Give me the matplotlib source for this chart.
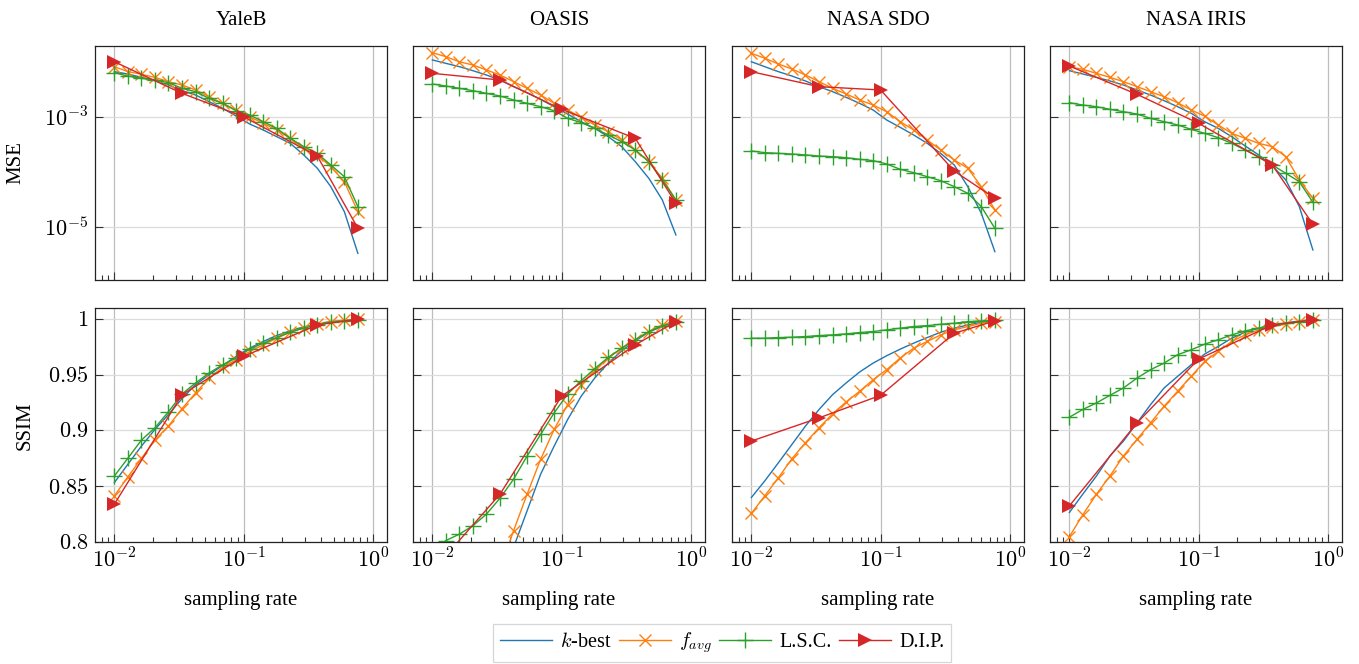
import matplotlib
matplotlib.use('Agg')
import matplotlib.pyplot as plt
from matplotlib.ticker import FixedLocator, LogLocator, NullLocator, NullFormatter, FixedFormatter
from matplotlib.lines import Line2D

plt.rcParams['font.family'] = ['Liberation Serif', 'DejaVu Serif']
plt.rcParams['mathtext.fontset'] = 'cm'

# ---------------- data ----------------
datasets = ['YaleB', 'OASIS', 'NASA SDO', 'NASA IRIS']
methods = ['$k$-best', '$f_{avg}$', 'L.S.C.', 'D.I.P.']
rates = [0.0100, 0.0127, 0.0162, 0.0206, 0.0262, 0.0334, 0.0425, 0.0541, 0.0688,
         0.0876, 0.1114, 0.1418, 0.1804, 0.2296, 0.2922, 0.3719, 0.4733, 0.6024, 0.7666]
dip_rates = [0.01, 0.0334, 0.1, 0.372, 0.767]

# MSE
yaleb_mse_kbest = [6.67e-3, 6.05e-3, 5.26e-3, 4.58e-3, 3.82e-3, 3.01e-3, 2.51e-3, 1.90e-3, 1.44e-3, 1.04e-3,
                   7.46e-4, 5.81e-4, 4.39e-4, 3.32e-4, 2.04e-4, 1.17e-4, 5.41e-5, 1.90e-5, 3.32e-6]
yaleb_mse_favg = [8.2e-3, 6.7e-3, 5.97e-3, 5.26e-3, 4.39e-3, 3.82e-3, 3.10e-3, 2.34e-3, 1.77e-3, 1.34e-3,
                  1.01e-3, 7.67e-4, 5.81e-4, 4.09e-4, 2.69e-4, 2.04e-4, 1.25e-4, 6.67e-5, 1.90e-5]
yaleb_mse_lsc = [6.40e-3, 5.56e-3, 5.05e-3, 4.71e-3, 4.21e-3, 3.32e-3, 2.89e-3, 2.18e-3, 1.77e-3, 1.30e-3,
                 1.09e-3, 8.22e-4, 6.22e-4, 4.09e-4, 2.89e-4, 2.18e-4, 1.34e-4, 8.22e-5, 2.34e-5]
yaleb_mse_dip = [1.01e-2, 2.69e-3, 1.01e-3, 1.95e-4, 9.46e-6]

oasis_mse_kbest = [1.09e-2, 9.46e-3, 8.22e-3, 6.95e-3, 5.80e-3, 4.71e-3, 3.56e-3, 2.77e-3, 2.09e-3, 1.54e-3,
                   1.13e-3, 8.22e-4, 6.22e-4, 4.39e-4, 2.89e-4, 1.54e-4, 7.67e-5, 3.10e-5, 7.16e-6]
oasis_mse_favg = [1.48e-2, 1.25e-2, 1.01e-2, 8.82e-3, 7.16e-3, 5.81e-3, 4.39e-3, 3.32e-3, 2.51e-3, 1.77e-3,
                  1.34e-3, 9.86e-4, 7.16e-4, 5.41e-4, 3.82e-4, 2.51e-4, 1.54e-4, 7.67e-5, 3.10e-5]
oasis_mse_lsc = [3.98e-3, 3.66e-3, 3.32e-3, 3.01e-3, 2.69e-3, 2.41e-3, 2.04e-3, 1.77e-3, 1.54e-3, 1.30e-3,
                 9.46e-4, 7.89e-4, 6.22e-4, 4.71e-4, 3.56e-4, 2.51e-4, 1.54e-4, 7.16e-5, 3.10e-5]
oasis_mse_dip = [6.22e-3, 4.71e-3, 1.38e-3, 4.09e-4, 2.69e-5]

sdo_mse_kbest = [1.01e-2, 8.22e-3, 6.67e-3, 5.56e-3, 4.52e-3, 3.56e-3, 2.89e-3, 2.28e-3, 1.77e-3, 1.34e-3,
                 8.82e-4, 6.49e-4, 4.71e-4, 3.32e-4, 2.18e-4, 1.34e-4, 5.41e-5, 1.77e-5, 3.56e-6]
sdo_mse_favg = [1.44e-2, 1.17e-2, 9.20e-3, 7.46e-3, 5.81e-3, 4.39e-3, 3.32e-3, 2.62e-3, 2.04e-3, 1.65e-3,
                1.25e-3, 8.22e-4, 5.81e-4, 3.82e-4, 2.51e-4, 1.65e-4, 1.17e-4, 5.41e-5, 2.04e-5]
sdo_mse_lsc = [2.41e-4, 2.25e-4, 2.18e-4, 2.12e-4, 2.04e-4, 1.95e-4, 1.90e-4, 1.82e-4, 1.70e-4, 1.61e-4,
               1.40e-4, 1.12e-4, 9.72e-5, 8.22e-5, 6.95e-5, 5.41e-5, 4.09e-5, 2.34e-5, 9.46e-6]
sdo_mse_dip = [6.67e-3, 3.56e-3, 3.10e-3, 1.04e-4, 3.32e-5]

iris_mse_kbest = [6.95e-3, 6.05e-3, 5.26e-3, 4.52e-3, 3.82e-3, 3.10e-3, 2.51e-3, 1.98e-3, 1.54e-3, 1.17e-3,
                  8.22e-4, 6.22e-4, 4.39e-4, 2.97e-4, 2.04e-4, 1.29e-4, 7.16e-5, 2.34e-5, 3.82e-6]
iris_mse_favg = [8.22e-3, 7.36e-3, 6.22e-3, 5.26e-3, 4.39e-3, 3.56e-3, 2.89e-3, 2.34e-3, 1.82e-3, 1.34e-3,
                 1.04e-3, 7.16e-4, 5.05e-4, 4.09e-4, 3.32e-4, 2.89e-4, 1.90e-4, 7.16e-5, 3.32e-5]
iris_mse_lsc = [1.82e-3, 1.65e-3, 1.54e-3, 1.38e-3, 1.25e-3, 1.13e-3, 9.46e-4, 8.22e-4, 7.16e-4, 5.97e-4,
                5.05e-4, 4.21e-4, 3.32e-4, 2.51e-4, 1.90e-4, 1.34e-4, 9.46e-5, 6.67e-5, 2.81e-5]
iris_mse_dip = [8.45e-3, 2.58e-3, 7.67e-4, 1.34e-4, 1.12e-5]

# SSIM
yaleb_ssim_kbest = [0.8533, 0.8696, 0.8860, 0.9009, 0.9143, 0.9286, 0.9411, 0.9500, 0.9583, 0.9664,
                    0.9738, 0.9798, 0.9851, 0.9893, 0.9929, 0.9952, 0.9976, 0.9988, 0.9997]
yaleb_ssim_favg = [0.8414, 0.8583, 0.8750, 0.8914, 0.9039, 0.9196, 0.9336, 0.9470, 0.9565, 0.9634,
                   0.9708, 0.9768, 0.9827, 0.9881, 0.9923, 0.9952, 0.9976, 0.9988, 0.9997]
yaleb_ssim_lsc = [0.8592, 0.8750, 0.8914, 0.9024, 0.9167, 0.9327, 0.9426, 0.9515, 0.9589, 0.9649,
                  0.9729, 0.9783, 0.9833, 0.9881, 0.9917, 0.9946, 0.9970, 0.9982, 0.9994]
yaleb_ssim_dip = [0.8339, 0.9321, 0.9664, 0.9946, 0.9997]

oasis_ssim_kbest = [0.55, 0.59, 0.63, 0.67, 0.71, 0.75, 0.7952, 0.8280, 0.8607, 0.8860,
                    0.9098, 0.9307, 0.9470, 0.9604, 0.9714, 0.9804, 0.9881, 0.9935, 0.9970]
oasis_ssim_favg = [0.60, 0.64, 0.68, 0.71, 0.745, 0.775, 0.8101, 0.8429, 0.8741, 0.9009,
                   0.9232, 0.9411, 0.9545, 0.9649, 0.9738, 0.9813, 0.9887, 0.9946, 0.9982]
oasis_ssim_lsc = [0.792, 0.8012, 0.8071, 0.8146, 0.8250, 0.8393, 0.8563, 0.8771, 0.8964, 0.9158,
                  0.9327, 0.9446, 0.9554, 0.9655, 0.9738, 0.9813, 0.9887, 0.9938, 0.9970]
oasis_ssim_dip = [0.774, 0.8429, 0.9307, 0.9768, 0.9976]

sdo_ssim_kbest = [0.8399, 0.8548, 0.8711, 0.8875, 0.9039, 0.9188, 0.9321, 0.9426, 0.9524, 0.9604,
                  0.9670, 0.9729, 0.9783, 0.9833, 0.9881, 0.9917, 0.9946, 0.9970, 0.9985]
sdo_ssim_favg = [0.8256, 0.8414, 0.8577, 0.8747, 0.8890, 0.9024, 0.9149, 0.9256, 0.9351, 0.9455,
                 0.9545, 0.9649, 0.9738, 0.9798, 0.9857, 0.9902, 0.9932, 0.9961, 0.9976]
sdo_ssim_lsc = [0.9827, 0.9827, 0.9833, 0.9836, 0.9842, 0.9851, 0.9857, 0.9866, 0.9878, 0.9887,
                0.9902, 0.9917, 0.9932, 0.9940, 0.9952, 0.9961, 0.9976, 0.9982, 0.9988]
sdo_ssim_dip = [0.8905, 0.9113, 0.9315, 0.9872, 0.9982]

iris_ssim_kbest = [0.8265, 0.8429, 0.8592, 0.8771, 0.8905, 0.9068, 0.9232, 0.9381, 0.9485, 0.9589,
                   0.9685, 0.9753, 0.9827, 0.9881, 0.9917, 0.9946, 0.9964, 0.9982, 0.9994]
iris_ssim_favg = [0.8048, 0.8244, 0.8429, 0.8592, 0.8771, 0.8920, 0.9068, 0.9217, 0.9351, 0.9485,
                  0.9619, 0.9708, 0.9798, 0.9857, 0.9902, 0.9932, 0.9952, 0.9976, 0.9991]
iris_ssim_lsc = [0.9119, 0.9188, 0.9247, 0.9315, 0.9381, 0.9470, 0.9545, 0.9604, 0.9679, 0.9723,
                 0.9774, 0.9813, 0.9857, 0.9893, 0.9917, 0.9946, 0.9961, 0.9976, 0.9988]
iris_ssim_dip = [0.8324, 0.9068, 0.9640, 0.9946, 0.9991]

ssim_ticks = [0.8, 0.85, 0.9, 0.95, 1.0]
ssim_ticklabels = ['$0.8$', '$0.85$', '$0.9$', '$0.95$', '$1$']
mse_ticks = [1e-5, 1e-3]
mse_ticklabels = ['$10^{-5}$', '$10^{-3}$']
x_ticks = [1e-2, 1e-1, 1e0]
x_ticklabels = ['$10^{-2}$', '$10^{-1}$', '$10^{0}$']

mse_table = [
    [yaleb_mse_kbest, yaleb_mse_favg, yaleb_mse_lsc, yaleb_mse_dip],
    [oasis_mse_kbest, oasis_mse_favg, oasis_mse_lsc, oasis_mse_dip],
    [sdo_mse_kbest, sdo_mse_favg, sdo_mse_lsc, sdo_mse_dip],
    [iris_mse_kbest, iris_mse_favg, iris_mse_lsc, iris_mse_dip],
]
ssim_table = [
    [yaleb_ssim_kbest, yaleb_ssim_favg, yaleb_ssim_lsc, yaleb_ssim_dip],
    [oasis_ssim_kbest, oasis_ssim_favg, oasis_ssim_lsc, oasis_ssim_dip],
    [sdo_ssim_kbest, sdo_ssim_favg, sdo_ssim_lsc, sdo_ssim_dip],
    [iris_ssim_kbest, iris_ssim_favg, iris_ssim_lsc, iris_ssim_dip],
]

# ---------------- style ----------------
colors = ['#1f77b4', '#ff7f0e', '#2ca02c', '#d62728']
styles = [
    dict(marker=None),
    dict(marker='x', ms=9, mew=1.0),
    dict(marker='+', ms=11, mew=1.0),
    dict(marker='>', ms=10, mew=0),
]

W, H = 1359, 664
fig = plt.figure(figsize=(W / 100, H / 100), dpi=100)

col_left = [95, 413, 732, 1050]
ax_w = 292
rows_top = [46, 308]
ax_h = 234
FS_TITLE = 15
FS_TICK = 16
FS_LABEL = 15
FS_LEG = 14.5


def px_axes(l, t):
    return [l / W, 1 - (t + ax_h) / H, ax_w / W, ax_h / H]


xlim = (10 ** -2.15, 10 ** 0.11)

for c in range(4):
    for r in range(2):
        ax = fig.add_axes(px_axes(col_left[c], rows_top[r]))
        table = mse_table if r == 0 else ssim_table
        for m in range(4):
            xs = dip_rates if m == 3 else rates
            ax.plot(xs, table[c][m], color=colors[m], lw=1.0, **styles[m])
        ax.set_xscale('log')
        ax.set_xlim(*xlim)
        ax.xaxis.set_major_locator(FixedLocator(x_ticks))
        ax.xaxis.set_minor_locator(LogLocator(base=10, subs=[2, 3, 4, 5, 6, 7, 8, 9], numticks=20))
        ax.xaxis.set_minor_formatter(NullFormatter())
        if r == 0:
            ax.set_yscale('log')
            ax.set_ylim(10 ** -5.964, 10 ** -1.709)
            ax.yaxis.set_major_locator(FixedLocator(mse_ticks))
            ax.yaxis.set_major_formatter(FixedFormatter(mse_ticklabels))
            ax.yaxis.set_minor_locator(NullLocator())
            ax.yaxis.set_minor_formatter(NullFormatter())
            ax.xaxis.set_major_formatter(NullFormatter())
            ax.set_title(datasets[c], fontsize=FS_TITLE, pad=15)
        else:
            ax.set_ylim(0.8, 1.0098)
            ax.yaxis.set_major_locator(FixedLocator(ssim_ticks))
            ax.yaxis.set_major_formatter(FixedFormatter(ssim_ticklabels))
            ax.yaxis.set_minor_locator(NullLocator())
            ax.xaxis.set_major_formatter(FixedFormatter(x_ticklabels))
            ax.set_xlabel('sampling rate', fontsize=FS_LABEL, labelpad=13)
        if c != 0:
            ax.yaxis.set_major_formatter(NullFormatter())
        ax.grid(True, which='major', axis='x', color='#bdbdbd', lw=0.9)
        ax.grid(True, which='major', axis='y', color='#dcdcdc', lw=0.9)
        ax.set_axisbelow(True)
        ax.tick_params(which='both', direction='in', top=False, right=False,
                       labelsize=FS_TICK, color='#333333')
        ax.tick_params(which='major', length=5.5, width=0.8, pad=5)
        ax.tick_params(which='minor', length=3.5, width=0.8)
        for sp in ax.spines.values():
            sp.set_color('#222222')
            sp.set_linewidth(0.9)

fig.text(16 / W, 1 - 163 / H, 'MSE', rotation=90, ha='center', va='center', fontsize=FS_LABEL)
fig.text(25 / W, 1 - 426 / H, 'SSIM', rotation=90, ha='center', va='center', fontsize=FS_LABEL)

handles = [Line2D([], [], color=colors[m], lw=1.0, **styles[m]) for m in range(4)]
leg = fig.legend(handles, methods, loc='center', bbox_to_anchor=(722 / W, 1 - 643 / H),
                 ncol=4, fontsize=FS_LEG, frameon=True, fancybox=False, edgecolor='#cccccc',
                 handlelength=2.6, columnspacing=0.35, handletextpad=0.4, borderpad=0.35)
leg.get_frame().set_linewidth(0.9)

fig.savefig('out.png', dpi=100)
